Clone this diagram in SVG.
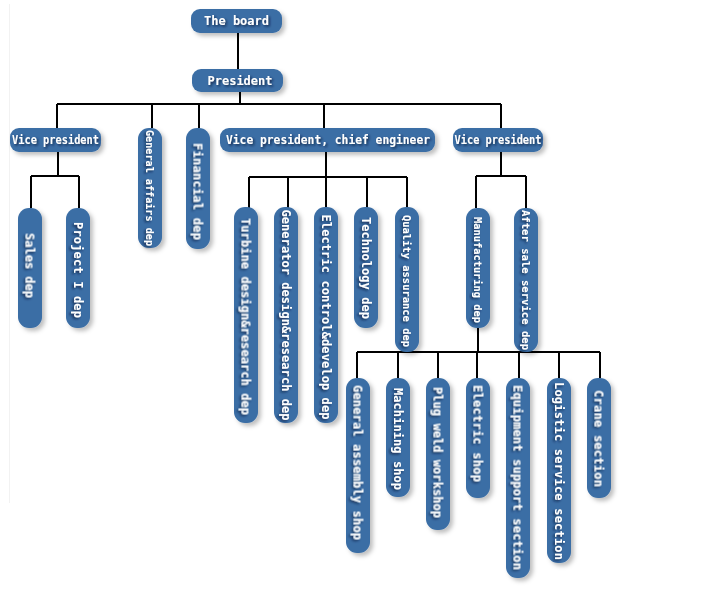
<svg xmlns="http://www.w3.org/2000/svg" width="720" height="600" viewBox="0 0 720 600">
<defs>
<filter id="bs" x="-20%" y="-20%" width="150%" height="150%"><feDropShadow dx="3" dy="3" stdDeviation="2" flood-color="#000" flood-opacity="0.25"/></filter>
<filter id="ts" x="-20%" y="-20%" width="140%" height="140%"><feDropShadow dx="1.5" dy="1.5" stdDeviation="1" flood-color="#0b1f3a" flood-opacity="0.8"/></filter>
</defs>
<style>
.b{fill:#3b6ea5;filter:url(#bs)}
.t{fill:#fff;font-family:"DejaVu Sans Mono","Liberation Mono",monospace;font-weight:bold;font-size:12px;text-anchor:middle;dominant-baseline:central;filter:url(#ts)}
.s{font-size:10.5px}
.c{fill:none;stroke:#000;stroke-width:2}
</style>
<rect width="720" height="600" fill="#fff"/>
<line x1="9.5" y1="4" x2="9.5" y2="503" stroke="#f2f2f2" stroke-width="1"/>
<g id="connectors" class="c">
<path d="M238 33V69"/>
<path d="M240 92V104M57 104H501M57 104V128M152 104V128M199 104V128M324 104V128M501 104V128"/>
<path d="M58 152V176M31 176H79M31 176V208M79 176V208"/>
<path d="M326 152V177M249 177H407M249 177V208M288 177V208M326 177V208M367 177V208M407 177V208"/>
<path d="M501 152V176M476 176H526M476 176V208M526 176V208"/>
<path d="M478 328V352M357 352H600M357 352V378M398 352V378M438 352V378M477 352V378M519 352V378M559 352V378M600 352V378"/>
</g>
<g id="board"><rect class="b" x="191" y="9" width="91" height="24" rx="9"/><text class="t" x="236.5" y="21">The board</text></g>
<g id="president"><rect class="b" x="192" y="69" width="91" height="23" rx="9"/><text class="t" x="240" y="80.5">President</text></g>
<g id="vp-left"><rect class="b" x="10" y="128" width="91" height="24" rx="9"/><text class="t" x="55.5" y="140" textLength="87" lengthAdjust="spacingAndGlyphs">Vice president</text></g>
<g id="general-affairs"><rect class="b" x="138" y="128" width="24" height="120" rx="11"/><text class="t s" x="150" y="188" transform="rotate(90 150 188)" textLength="116" lengthAdjust="spacingAndGlyphs">General affairs dep</text></g>
<g id="financial"><rect class="b" x="186" y="128" width="24" height="121" rx="11"/><text class="t" x="198" y="191.5" transform="rotate(90 198 191.5)" textLength="97">Financial dep</text></g>
<g id="vp-chief"><rect class="b" x="220" y="128" width="215" height="24" rx="9"/><text class="t" x="328" y="140" textLength="204" lengthAdjust="spacingAndGlyphs">Vice president, chief engineer</text></g>
<g id="vp-right"><rect class="b" x="453" y="128" width="90" height="24" rx="9"/><text class="t" x="498" y="140" textLength="87" lengthAdjust="spacingAndGlyphs">Vice president</text></g>
<g id="sales"><rect class="b" x="18" y="208" width="24" height="120" rx="11"/><text class="t" x="30" y="265.5" transform="rotate(90 30 265.5)">Sales dep</text></g>
<g id="project"><rect class="b" x="66" y="208" width="24" height="120" rx="11"/><text class="t" x="78" y="270" transform="rotate(90 78 270)" textLength="96">Project I dep</text></g>
<g id="turbine"><rect class="b" x="234" y="207" width="24" height="216" rx="11"/><text class="t" x="246" y="316.5" transform="rotate(90 246 316.5)" textLength="197">Turbine design&amp;research dep</text></g>
<g id="generator"><rect class="b" x="274" y="207" width="24" height="216" rx="11"/><text class="t" x="286" y="315" transform="rotate(90 286 315)" textLength="211">Generator design&amp;research dep</text></g>
<g id="electric-control"><rect class="b" x="314" y="207" width="24" height="216" rx="11"/><text class="t" x="326" y="317" transform="rotate(90 326 317)" textLength="205">Electric control&amp;develop dep</text></g>
<g id="technology"><rect class="b" x="354" y="207" width="24" height="121" rx="11"/><text class="t" x="366" y="268" transform="rotate(90 366 268)" textLength="102">Technology dep</text></g>
<g id="quality"><rect class="b" x="395" y="207" width="24" height="145" rx="11"/><text class="t s" x="407" y="281" transform="rotate(90 407 281)" textLength="132" lengthAdjust="spacingAndGlyphs">Quality assurance dep</text></g>
<g id="manufacturing"><rect class="b" x="466" y="208" width="24" height="120" rx="11"/><text class="t s" x="478" y="270" transform="rotate(90 478 270)" textLength="106" lengthAdjust="spacingAndGlyphs">Manufacturing dep</text></g>
<g id="after-sale"><rect class="b" x="514" y="208" width="24" height="144" rx="11"/><text class="t s" x="526" y="280" transform="rotate(90 526 280)" textLength="140" lengthAdjust="spacingAndGlyphs">After sale service dep</text></g>
<g id="general-assembly"><rect class="b" x="346" y="378" width="24" height="175" rx="11"/><text class="t" x="358" y="462.5" transform="rotate(90 358 462.5)" textLength="155">General assembly shop</text></g>
<g id="machining"><rect class="b" x="386" y="378" width="24" height="119" rx="11"/><text class="t" x="398" y="439" transform="rotate(90 398 439)" textLength="102">Machining shop</text></g>
<g id="plug-weld"><rect class="b" x="426" y="378" width="24" height="152" rx="11"/><text class="t" x="438" y="452.5" transform="rotate(90 438 452.5)" textLength="131">Plug weld workshop</text></g>
<g id="electric-shop"><rect class="b" x="466" y="378" width="24" height="120" rx="11"/><text class="t" x="478" y="433.5" transform="rotate(90 478 433.5)" textLength="97">Electric shop</text></g>
<g id="equipment"><rect class="b" x="506" y="378" width="24" height="200" rx="11"/><text class="t" x="518" y="477.5" transform="rotate(90 518 477.5)" textLength="185">Equipment support section</text></g>
<g id="logistic"><rect class="b" x="547" y="378" width="24" height="185" rx="11"/><text class="t" x="559" y="471" transform="rotate(90 559 471)" textLength="178">Logistic service section</text></g>
<g id="crane"><rect class="b" x="587" y="378" width="24" height="120" rx="11"/><text class="t" x="599" y="438.5" transform="rotate(90 599 438.5)" textLength="97">Crane section</text></g>
</svg>
